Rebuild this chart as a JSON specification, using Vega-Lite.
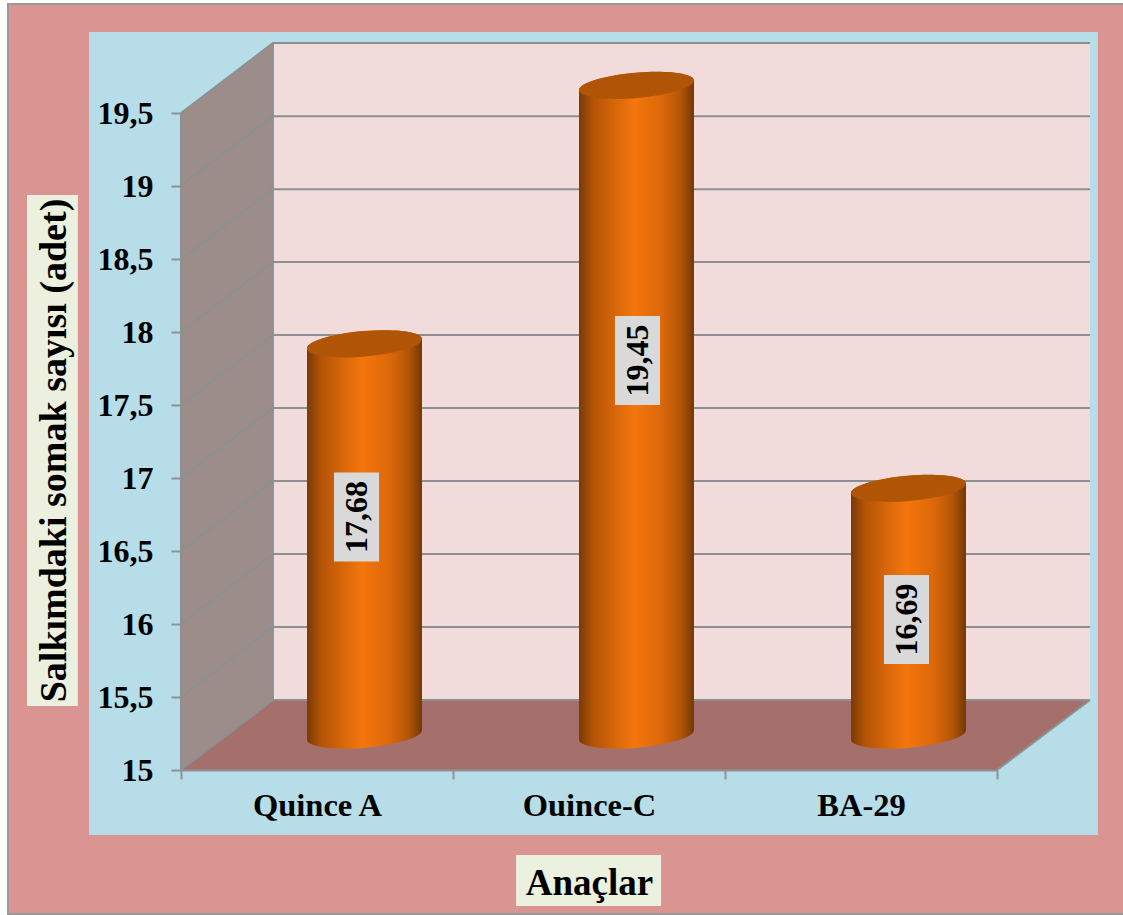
{
  "$schema": "https://vega.github.io/schema/vega-lite/v6.json",
  "width": 909,
  "height": 727,
  "autosize": "none",
  "padding": {"left": 181, "top": 43, "right": 33, "bottom": 145},
  "background": "white",
  "datasets": {
    "rootstocks": [
      {"rootstock": "Quince A", "value": 17.68},
      {"rootstock": "Ouince-C", "value": 19.45},
      {"rootstock": "BA-29", "value": 16.69}
    ],
    "wallLines": [
      {"line": "15", "depth": 0, "level": 15},
      {"line": "15", "depth": 0.338, "level": 15.479},
      {"line": "15", "depth": 3.342, "level": 15.479},
      {"line": "15.5", "depth": 0, "level": 15.5},
      {"line": "15.5", "depth": 0.338, "level": 15.979},
      {"line": "15.5", "depth": 3.342, "level": 15.979},
      {"line": "16", "depth": 0, "level": 16},
      {"line": "16", "depth": 0.338, "level": 16.479},
      {"line": "16", "depth": 3.342, "level": 16.479},
      {"line": "16.5", "depth": 0, "level": 16.5},
      {"line": "16.5", "depth": 0.338, "level": 16.979},
      {"line": "16.5", "depth": 3.342, "level": 16.979},
      {"line": "17", "depth": 0, "level": 17},
      {"line": "17", "depth": 0.338, "level": 17.479},
      {"line": "17", "depth": 3.342, "level": 17.479},
      {"line": "17.5", "depth": 0, "level": 17.5},
      {"line": "17.5", "depth": 0.338, "level": 17.979},
      {"line": "17.5", "depth": 3.342, "level": 17.979},
      {"line": "18", "depth": 0, "level": 18},
      {"line": "18", "depth": 0.338, "level": 18.479},
      {"line": "18", "depth": 3.342, "level": 18.479},
      {"line": "18.5", "depth": 0, "level": 18.5},
      {"line": "18.5", "depth": 0.338, "level": 18.979},
      {"line": "18.5", "depth": 3.342, "level": 18.979},
      {"line": "19", "depth": 0, "level": 19},
      {"line": "19", "depth": 0.338, "level": 19.479},
      {"line": "19", "depth": 3.342, "level": 19.479},
      {"line": "19.5", "depth": 0, "level": 19.5},
      {"line": "19.5", "depth": 0.338, "level": 19.98},
      {"line": "19.5", "depth": 3.342, "level": 19.98},
      {"line": "front edge", "depth": 0, "level": 15},
      {"line": "front edge", "depth": 0, "level": 19.5},
      {"line": "back corner", "depth": 0.338, "level": 15.479},
      {"line": "back corner", "depth": 0.338, "level": 19.98},
      {"line": "floor right", "depth": 3, "level": 15},
      {"line": "floor right", "depth": 3.342, "level": 15.479}
    ]
  },
  "resolve": {"scale": {"x": "independent"}},
  "layer": [
    {
      "description": "Frame, panels, walls and floor, in units of one category width across and of the value axis up",
      "layer": [
        {
          "data": {"values": [{"x0": -0.636, "x1": 3.6, "y0": 14.014, "y1": 20.247}]},
          "mark": {"type": "rect", "fill": "#da9593", "stroke": "#9a9a9a", "strokeWidth": 2},
          "encoding": {
            "x": {"field": "x0", "type": "quantitative", "axis": null, "scale": {"domain": [0, 3.342], "range": [0, 909], "nice": false, "zero": false}},
            "x2": {"field": "x1"},
            "y": {
              "field": "y0",
              "type": "quantitative",
              "scale": {"domain": [15, 19.98], "nice": false, "zero": false},
              "axis": {
                "values": [15, 15.5, 16, 16.5, 17, 17.5, 18, 18.5, 19, 19.5],
                "labelExpr": "replace(toString(datum.value), '.', ',')",
                "title": "Salkımdaki somak sayısı (adet)",
                "titleFont": "Liberation Serif",
                "titleFontWeight": "bold",
                "titleFontSize": 38,
                "titleColor": "#000000",
                "titleBaseline": "middle",
                "titleX": -127,
                "titleY": 407,
                "labelFont": "Liberation Serif",
                "labelFontWeight": "bold",
                "labelFontSize": 32,
                "labelColor": "#000000",
                "labelPadding": 18,
                "labelOverlap": false,
                "tickSize": 10,
                "tickWidth": 2,
                "tickColor": "#8f9191",
                "domain": false,
                "grid": false,
                "zindex": 1
              }
            },
            "y2": {"field": "y1"}
          }
        },
        {
          "data": {"values": [{"x0": -0.338, "x1": 3.371, "y0": 14.555, "y1": 20.055}]},
          "mark": {"type": "rect", "fill": "#b7dde8"},
          "encoding": {
            "x": {"field": "x0", "type": "quantitative", "axis": null},
            "x2": {"field": "x1"},
            "y": {"field": "y0", "type": "quantitative"},
            "y2": {"field": "y1"}
          }
        },
        {
          "data": {"values": [{"x0": -0.566, "x1": -0.379, "y0": 15.438, "y1": 18.938}, {"x0": 1.232, "x1": 1.765, "y0": 14.068, "y1": 14.418}]},
          "mark": {"type": "rect", "fill": "#ebf0df"},
          "encoding": {
            "x": {"field": "x0", "type": "quantitative", "axis": null},
            "x2": {"field": "x1"},
            "y": {"field": "y0", "type": "quantitative"},
            "y2": {"field": "y1"}
          }
        },
        {
          "data": {"values": [{"x0": 0.338, "x1": 3.342, "y0": 15.479, "y1": 19.98}]},
          "mark": {"type": "rect", "fill": "#f2dcdb"},
          "encoding": {
            "x": {"field": "x0", "type": "quantitative", "axis": null},
            "x2": {"field": "x1"},
            "y": {"field": "y0", "type": "quantitative"},
            "y2": {"field": "y1"}
          }
        },
        {
          "data": {"values": [{"x": 0, "lo": 15, "hi": 19.5}, {"x": 0.338, "lo": 15.479, "hi": 19.98}]},
          "mark": {"type": "area", "fill": "#9c8d8b", "line": false},
          "encoding": {
            "x": {"field": "x", "type": "quantitative", "axis": null},
            "y": {"field": "lo", "type": "quantitative", "stack": null},
            "y2": {"field": "hi"}
          }
        },
        {
          "data": {"values": [{"x": 0, "lo": 15, "hi": 15}, {"x": 0.338, "lo": 15, "hi": 15.479}, {"x": 3, "lo": 15, "hi": 15.479}, {"x": 3.342, "lo": 15.479, "hi": 15.479}]},
          "mark": {"type": "area", "fill": "#a5706c", "line": false},
          "encoding": {
            "x": {"field": "x", "type": "quantitative", "axis": null},
            "y": {"field": "lo", "type": "quantitative", "stack": null},
            "y2": {"field": "hi"}
          }
        },
        {
          "data": {"name": "wallLines"},
          "mark": {"type": "line", "stroke": "#8c9090", "strokeWidth": 2},
          "encoding": {
            "x": {"field": "depth", "type": "quantitative", "axis": null},
            "y": {"field": "level", "type": "quantitative"},
            "detail": {"field": "line"}
          }
        }
      ]
    },
    {
      "description": "One cylinder per rootstock, standing halfway into the floor's depth, with its rotated value label",
      "data": {"name": "rootstocks"},
      "transform": [{"calculate": "replace(format(datum.value, '.2f'), '.', ',')", "as": "valueLabel"}],
      "encoding": {
        "x": {
          "field": "rootstock",
          "type": "nominal",
          "sort": null,
          "scale": {"type": "band", "domain": ["Quince A", "Ouince-C", "BA-29"], "range": [0, 816], "paddingInner": 0, "paddingOuter": 0},
          "axis": {
            "title": "Anaçlar",
            "titleFont": "Liberation Serif",
            "titleFontWeight": "bold",
            "titleFontSize": 37,
            "titleColor": "#000000",
            "titleBaseline": "middle",
            "titleY": 113,
            "labelAngle": 0,
            "labelFont": "Liberation Serif",
            "labelFontWeight": "bold",
            "labelFontSize": 32.5,
            "labelColor": "#000000",
            "labelPadding": 10,
            "tickBand": "extent",
            "tickSize": 9,
            "tickWidth": 2,
            "tickColor": "#8f9191",
            "domainColor": "#8f9191",
            "domainWidth": 2,
            "grid": false,
            "zindex": 1
          }
        }
      },
      "layer": [
        {
          "mark": {
            "type": "bar",
            "width": 115,
            "xOffset": 47.5,
            "yOffset": -20,
            "y2Offset": -48,
            "fill": {
              "gradient": "linear", "x1": 0, "x2": 1, "y1": 0, "y2": 0,
              "stops": [
                {"offset": 0, "color": "#7a3b06"},
                {"offset": 0.12, "color": "#b25306"},
                {"offset": 0.3, "color": "#d6650a"},
                {"offset": 0.48, "color": "#f4760c"},
                {"offset": 0.72, "color": "#dc680a"},
                {"offset": 0.88, "color": "#b55507"},
                {"offset": 1, "color": "#743805"}
              ]
            }
          },
          "encoding": {
            "y": {"field": "value", "type": "quantitative", "stack": null},
            "y2": {"datum": 15}
          }
        },
        {
          "mark": {
            "type": "point",
            "shape": "M-1,0.087 A1,0.22,-5,0,1,1,-0.087 L1,0.3 L-1,0.3 Z",
            "size": 13225,
            "filled": true,
            "opacity": 1,
            "strokeWidth": 0,
            "xOffset": 47.5,
            "yOffset": -35,
            "fill": {
              "gradient": "linear", "x1": 0, "x2": 1, "y1": 0, "y2": 0,
              "stops": [
                {"offset": 0, "color": "#7a3b06"},
                {"offset": 0.12, "color": "#b25306"},
                {"offset": 0.3, "color": "#d6650a"},
                {"offset": 0.48, "color": "#f4760c"},
                {"offset": 0.72, "color": "#dc680a"},
                {"offset": 0.88, "color": "#b55507"},
                {"offset": 1, "color": "#743805"}
              ]
            }
          },
          "encoding": {"y": {"field": "value", "type": "quantitative"}}
        },
        {
          "mark": {
            "type": "point",
            "shape": "M-1,-0.3 L1,-0.3 L1,-0.087 A1,0.22,-5,0,1,-1,0.087 Z",
            "size": 13225,
            "filled": true,
            "opacity": 1,
            "strokeWidth": 0,
            "xOffset": 47.5,
            "yOffset": -35,
            "fill": {
              "gradient": "linear", "x1": 0, "x2": 1, "y1": 0, "y2": 0,
              "stops": [
                {"offset": 0, "color": "#7a3b06"},
                {"offset": 0.12, "color": "#b25306"},
                {"offset": 0.3, "color": "#d6650a"},
                {"offset": 0.48, "color": "#f4760c"},
                {"offset": 0.72, "color": "#dc680a"},
                {"offset": 0.88, "color": "#b55507"},
                {"offset": 1, "color": "#743805"}
              ]
            }
          },
          "encoding": {"y": {"datum": 15, "type": "quantitative"}}
        },
        {
          "mark": {
            "type": "point",
            "shape": "M-1,0.087 A1,0.22,-5,0,1,1,-0.087 A1,0.22,-5,0,1,-1,0.087 Z",
            "size": 13225,
            "filled": true,
            "opacity": 1,
            "strokeWidth": 0,
            "xOffset": 47.5,
            "yOffset": -35,
            "fill": "#b05406"
          },
          "encoding": {"y": {"field": "value", "type": "quantitative"}}
        },
        {
          "transform": [{"filter": "datum.rootstock === 'Quince A'"}],
          "encoding": {"y": {"datum": 16.733, "type": "quantitative"}},
          "layer": [
            {
              "mark": {"type": "point", "shape": "M-0.506,-1 L0.506,-1 L0.506,1 L-0.506,1 Z", "size": 7921, "filled": true, "opacity": 1, "strokeWidth": 0, "xOffset": 39.5, "fill": "#d9d9d9"}
            },
            {
              "mark": {"type": "text", "angle": 270, "font": "Liberation Serif", "fontWeight": "bold", "fontSize": 32, "color": "#000000", "align": "center", "baseline": "middle", "xOffset": 40},
              "encoding": {"text": {"field": "valueLabel"}}
            }
          ]
        },
        {
          "transform": [{"filter": "datum.rootstock === 'Ouince-C'"}],
          "encoding": {"y": {"datum": 17.805, "type": "quantitative"}},
          "layer": [
            {
              "mark": {"type": "point", "shape": "M-0.506,-1 L0.506,-1 L0.506,1 L-0.506,1 Z", "size": 7921, "filled": true, "opacity": 1, "strokeWidth": 0, "xOffset": 48.5, "fill": "#d9d9d9"}
            },
            {
              "mark": {"type": "text", "angle": 270, "font": "Liberation Serif", "fontWeight": "bold", "fontSize": 32, "color": "#000000", "align": "center", "baseline": "middle", "xOffset": 49},
              "encoding": {"text": {"field": "valueLabel"}}
            }
          ]
        },
        {
          "transform": [{"filter": "datum.rootstock === 'BA-29'"}],
          "encoding": {"y": {"datum": 16.031, "type": "quantitative"}},
          "layer": [
            {
              "mark": {"type": "point", "shape": "M-0.506,-1 L0.506,-1 L0.506,1 L-0.506,1 Z", "size": 7921, "filled": true, "opacity": 1, "strokeWidth": 0, "xOffset": 45.5, "fill": "#d9d9d9"}
            },
            {
              "mark": {"type": "text", "angle": 270, "font": "Liberation Serif", "fontWeight": "bold", "fontSize": 32, "color": "#000000", "align": "center", "baseline": "middle", "xOffset": 46},
              "encoding": {"text": {"field": "valueLabel"}}
            }
          ]
        }
      ]
    }
  ]
}
